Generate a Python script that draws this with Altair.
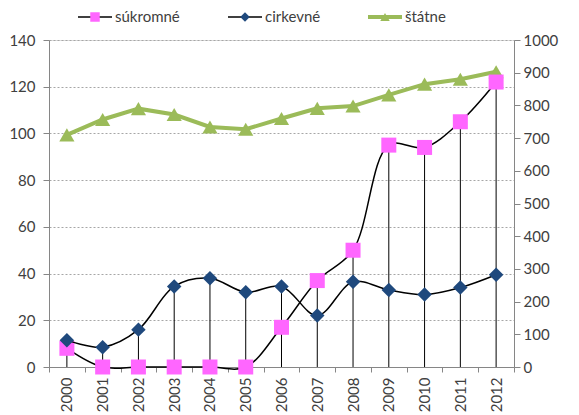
import altair as alt
import pandas as pd

years = [str(y) for y in range(2000, 2013)]
sukromne = [8, 0, 0, 0, 0, 0, 17, 37, 50, 95, 94, 105, 122]
cirkevne = [11.5, 8.5, 16, 34.5, 38, 32, 34.5, 22, 36.5, 33, 31, 34, 39.5]
statne = [710, 757, 790, 772, 734, 727, 760, 791, 798, 832, 865, 880, 903]

left_ticks = list(range(0, 141, 20))
right_ticks = list(range(0, 1001, 100))

df = pd.DataFrame({"year": years, "sukromne": sukromne,
                   "cirkevne": cirkevne, "statne": statne})
df["drop"] = df[["sukromne", "cirkevne"]].max(axis=1)

W, H = 465, 327
FONT = "Lato"
TXT = "#404040"
AXC = "#868686"
PINK = "#FF66FF"
NAVY = "#1F497D"
GREEN = "#9BBB59"

xenc = alt.X(
    "year:O",
    scale=alt.Scale(type="band", paddingInner=0, paddingOuter=0),
    bandPosition=0.5,
    title=None,
    axis=alt.Axis(labelAngle=-90, tickBand="extent", tickSize=5, tickColor=AXC,
                  domainColor=AXC, labelPadding=5, labelFontSize=15,
                  labelFont=FONT, labelColor=TXT, grid=False),
)

left_scale = alt.Scale(domain=[0, 140], nice=False, zero=True)
right_scale = alt.Scale(domain=[0, 1000], nice=False, zero=True)

base = alt.Chart(df)

drops = base.mark_rule(color="#000000", strokeWidth=1).encode(
    x=xenc,
    y=alt.Y("drop:Q", scale=left_scale, title=None,
            axis=alt.Axis(values=left_ticks, grid=True, gridDash=[2, 2],
                          gridColor="#A6A6A6", tickSize=6, tickColor=AXC,
                          domainColor=AXC, labelPadding=8, labelFontSize=15,
                          labelFont=FONT, labelColor=TXT, format="d")),
    y2=alt.datum(0),
)

st_line = base.mark_line(color=GREEN, strokeWidth=4).encode(
    x=xenc,
    y=alt.Y("statne:Q", scale=right_scale, title=None,
            axis=alt.Axis(orient="right", values=right_ticks, grid=False,
                          tickSize=6, tickColor=AXC, domainColor=AXC,
                          labelPadding=3, labelFontSize=15, labelFont=FONT,
                          labelColor=TXT, format="d")),
)
st_pts = base.mark_point(shape="triangle-up", filled=True, opacity=1,
                         color=GREEN, size=230).encode(
    x=xenc, y=alt.Y("statne:Q", scale=right_scale, axis=None))

su_line = base.mark_line(color="#000000", strokeWidth=1.5,
                         interpolate="catmull-rom").encode(
    x=xenc, y=alt.Y("sukromne:Q", scale=left_scale, axis=None))
su_pts = base.mark_point(shape="square", filled=True, opacity=1,
                         color=PINK, size=225).encode(
    x=xenc, y=alt.Y("sukromne:Q", scale=left_scale, axis=None))

ci_line = base.mark_line(color="#000000", strokeWidth=1.5,
                         interpolate="catmull-rom").encode(
    x=xenc, y=alt.Y("cirkevne:Q", scale=left_scale, axis=None))
ci_pts = base.mark_point(shape="diamond", filled=True, opacity=1,
                         color=NAVY, size=210).encode(
    x=xenc, y=alt.Y("cirkevne:Q", scale=left_scale, axis=None))

# manual legend
one = alt.Chart(pd.DataFrame({"k": [0]}))
LY = -23


def legend_item(label, line_color, line_w, mcolor, shape, msize, x0):
    ln = one.mark_rule(color=line_color, strokeWidth=line_w).encode(
        x=alt.value(x0), x2=alt.value(x0 + 34), y=alt.value(LY))
    mk = one.mark_point(shape=shape, filled=True, opacity=1, color=mcolor,
                        size=msize).encode(x=alt.value(x0 + 17), y=alt.value(LY))
    tx = one.mark_text(align="left", baseline="middle", font=FONT,
                       fontSize=15, color=TXT).encode(
        x=alt.value(x0 + 37), y=alt.value(LY), text=alt.value(label))
    return [ln, mk, tx]


leg = (legend_item("súkromné", "#000000", 1.5, PINK, "square", 90, 29)
       + legend_item("cirkevné", "#000000", 1.5, NAVY, "diamond", 90, 179)
       + legend_item("štátne", GREEN, 4, GREEN, "triangle-up", 90, 319))

chart = alt.layer(
    drops, st_line, st_pts, su_line, su_pts, ci_line, ci_pts, *leg
).resolve_scale(y="independent").properties(
    width=W, height=H,
    autosize=alt.AutoSizeParams(type="none"),
    padding={"left": 41, "top": 32, "right": 50, "bottom": 50},
).configure_view(strokeWidth=0).configure(background="white")

chart.save("out.html", embed_options={"renderer": "svg", "actions": False})
